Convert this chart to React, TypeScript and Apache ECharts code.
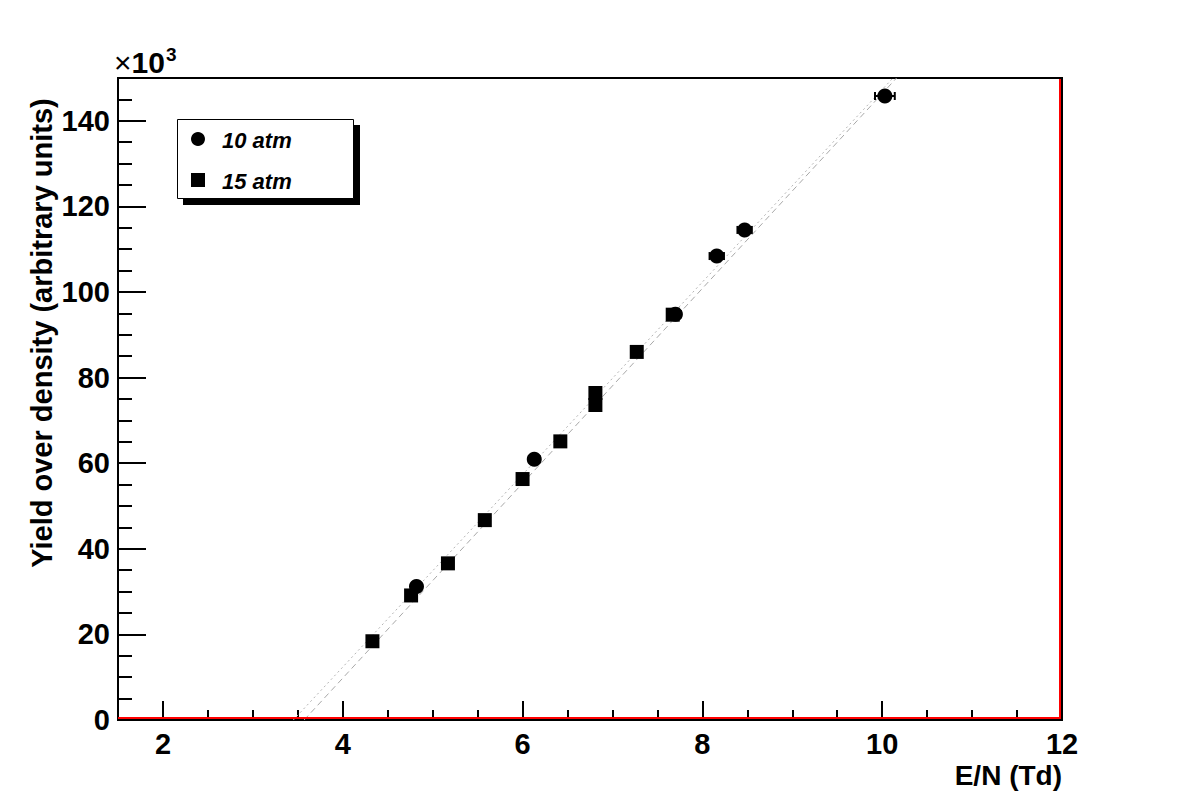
import React, { useEffect, useRef } from "react";
import * as echarts from "echarts";

// 10 atm (circles) with horizontal errors
const tenX = [4.82, 6.13, 7.7, 8.16, 8.47, 10.03];
const tenY = [31.2, 60.9, 94.8, 108.4, 114.5, 145.8];
const tenErr = [0.05, 0.06, 0.06, 0.08, 0.08, 0.11];
// 15 atm (squares)
const fifX = [4.33, 4.76, 5.17, 5.58, 6.0, 6.42, 6.81, 6.81, 7.27, 7.67];
const fifY = [18.4, 29.1, 36.6, 46.7, 56.3, 65.1, 76.4, 73.6, 86.0, 94.7];
// linear fits (end points)
const fitTenX = [3.45, 10.12];
const fitTenY = [0, 150];
const fitFifX = [3.57, 10.16];
const fitFifY = [0, 150];
// axes
const xMajor = [2, 4, 6, 8, 10, 12];
const yMajor = [0, 20, 40, 60, 80, 100, 120, 140];

const FONT = "'Liberation Sans', Arial, Helvetica, sans-serif";

export default function App() {
  const ref = useRef<HTMLDivElement>(null);
  useEffect(() => {
    if (!ref.current) return;
    const chart = echarts.init(ref.current, undefined, { renderer: "svg" });
    const tick = { show: true, inside: true, lineStyle: { color: "#000", width: 2 } };
    chart.setOption({
      animation: false,
      backgroundColor: "#fff",
      grid: {
        left: 118, top: 78, right: 120, bottom: 80,
        show: true, borderColor: "#000", borderWidth: 2, backgroundColor: "transparent",
      },
      xAxis: [
        {
          type: "value", min: 1.5, max: 12, interval: 0.5, position: "bottom",
          axisLine: { show: true, onZero: false, lineStyle: { color: "#000", width: 2 } },
          axisTick: { ...tick, length: 10 },
          axisLabel: {
            customValues: xMajor, margin: 9, color: "#000",
            fontFamily: FONT, fontWeight: "bold", fontSize: 29,
          },
          splitLine: { show: false },
        },
        {
          type: "value", min: 1.5, max: 12, position: "bottom",
          axisLine: { show: false },
          axisTick: { ...tick, length: 19, customValues: xMajor },
          axisLabel: { show: false },
          splitLine: { show: false },
        },
      ],
      yAxis: [
        {
          type: "value", min: 0, max: 150, interval: 5, position: "left",
          axisLine: { show: true, onZero: false, lineStyle: { color: "#000", width: 2 } },
          axisTick: { ...tick, length: 14 },
          axisLabel: {
            customValues: yMajor, margin: 8, color: "#000",
            fontFamily: FONT, fontWeight: "bold", fontSize: 29,
          },
          splitLine: { show: false },
        },
        {
          type: "value", min: 0, max: 150, position: "left",
          axisLine: { show: false },
          axisTick: { ...tick, length: 28, customValues: yMajor },
          axisLabel: { show: false },
          splitLine: { show: false },
        },
      ],
      series: [
        {
          type: "line", name: "fit10",
          data: fitTenX.map((x, i) => [x, fitTenY[i]]),
          symbol: "none", silent: true,
          lineStyle: { color: "#b4b4b4", width: 1, type: [2, 3] },
          z: 1,
        },
        {
          type: "line", name: "fit15",
          data: fitFifX.map((x, i) => [x, fitFifY[i]]),
          symbol: "none", silent: true,
          lineStyle: { color: "#a8a8a8", width: 1, type: [6, 4] },
          z: 1,
        },
        {
          type: "custom", name: "err10",
          renderItem: (params: any, api: any) => {
            const x = api.value(0), y = api.value(1), e = api.value(2);
            const p1 = api.coord([x - e, y]);
            const p2 = api.coord([x + e, y]);
            const style = { stroke: "#000", lineWidth: 2 };
            return {
              type: "group",
              children: [
                { type: "line", shape: { x1: p1[0], y1: p1[1], x2: p2[0], y2: p2[1] }, style },
                { type: "line", shape: { x1: p1[0], y1: p1[1] - 4, x2: p1[0], y2: p1[1] + 4 }, style },
                { type: "line", shape: { x1: p2[0], y1: p2[1] - 4, x2: p2[0], y2: p2[1] + 4 }, style },
              ],
            };
          },
          data: tenX.map((x, i) => [x, tenY[i], tenErr[i]]),
          z: 3,
        },
        {
          type: "scatter", name: "15 atm",
          data: fifX.map((x, i) => [x, fifY[i]]),
          symbol: "rect", symbolSize: 14,
          itemStyle: { color: "#000", opacity: 1 },
          z: 4,
        },
        {
          type: "scatter", name: "10 atm",
          data: tenX.map((x, i) => [x, tenY[i]]),
          symbol: "circle", symbolSize: 15,
          itemStyle: { color: "#000", opacity: 1 },
          z: 5,
        },
      ],
      graphic: [
        // red frame lines of the histogram
        { type: "line", z: 10, shape: { x1: 118, y1: 718, x2: 1061, y2: 718 }, style: { stroke: "#ff0000", lineWidth: 2 } },
        { type: "line", z: 10, shape: { x1: 1060, y1: 79, x2: 1060, y2: 718 }, style: { stroke: "#ff0000", lineWidth: 2 } },
        // legend box with shadow
        { type: "rect", z: 20, shape: { x: 183, y: 125, width: 177, height: 80 }, style: { fill: "#000" } },
        { type: "rect", z: 21, shape: { x: 177.5, y: 119.5, width: 176, height: 79 }, style: { fill: "#fff", stroke: "#000", lineWidth: 1 } },
        { type: "circle", z: 22, shape: { cx: 198, cy: 139, r: 7 }, style: { fill: "#000" } },
        { type: "rect", z: 22, shape: { x: 191, y: 173, width: 14, height: 14 }, style: { fill: "#000" } },
        {
          type: "text", z: 22, x: 222, y: 140,
          style: { text: "10 atm", fontFamily: FONT, fontWeight: "bold", fontStyle: "italic", fontSize: 22, fill: "#000", textVerticalAlign: "middle" },
        },
        {
          type: "text", z: 22, x: 222, y: 181,
          style: { text: "15 atm", fontFamily: FONT, fontWeight: "bold", fontStyle: "italic", fontSize: 22, fill: "#000", textVerticalAlign: "middle" },
        },
        // exponent
        {
          type: "text", z: 22, x: 114, y: 80,
          style: {
            text: "{a|×}{b|10}{c|3}",
            textVerticalAlign: "bottom",
            rich: {
              a: { fontFamily: FONT, fontSize: 30, color: "#000" },
              b: { fontFamily: FONT, fontSize: 30, fontWeight: "bold", color: "#000" },
              c: { fontFamily: FONT, fontSize: 19, fontWeight: "bold", color: "#000", verticalAlign: "top", padding: [0, 0, 16, 1] },
            },
          },
        },
        // axis titles
        {
          type: "text", z: 22, x: 42, y: 333, rotation: Math.PI / 2,
          style: { text: "Yield over density (arbitrary units)", fontFamily: FONT, fontWeight: "bold", fontSize: 29, fill: "#000", textAlign: "center", textVerticalAlign: "middle" },
        },
        {
          type: "text", z: 22, x: 1062, y: 775,
          style: { text: "E/N (Td)", fontFamily: FONT, fontWeight: "bold", fontSize: 28, fill: "#000", textAlign: "right", textVerticalAlign: "middle" },
        },
      ],
    });
    return () => chart.dispose();
  }, []);
  return <div ref={ref} style={{ width: 1182, height: 800, margin: -8 }} />;
}
